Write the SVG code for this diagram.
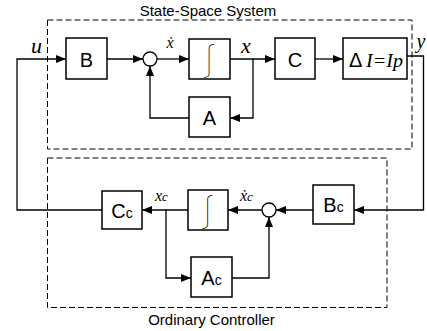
<svg xmlns="http://www.w3.org/2000/svg" width="427" height="331" viewBox="0 0 427 331">
<style>
.box{fill:#fff;stroke:#000;stroke-width:1.5}
.sum{fill:#fff;stroke:#000;stroke-width:1.3}
.dash{fill:none;stroke:#000;stroke-width:1;stroke-dasharray:6 3}
.arr{fill:none;stroke:#000;stroke-width:1.3;marker-end:url(#ah)}
.lbl{font-family:"Liberation Sans",Arial,sans-serif;font-size:20px;fill:#000}
.sub{font-size:14px}
.cap{font-family:"Liberation Sans",Arial,sans-serif;font-size:15px;fill:#000}
.math{font-family:"Liberation Serif","Times New Roman",serif;font-style:italic;fill:#000}
.int{font-family:Inter,sans-serif;font-weight:100;font-size:33px;fill:#000}
</style>
<defs>
<marker id="ah" markerUnits="userSpaceOnUse" markerWidth="11" markerHeight="9" refX="10" refY="4" orient="auto">
<path d="M0,0 L10,4 L0,8 z" fill="#000"/>
</marker>
</defs>
<rect width="427" height="331" fill="#fff"/>
<g id="ss-system">
<rect class="dash" x="47.5" y="20" width="364.5" height="129"/>
<text class="cap" x="208" y="16" text-anchor="middle">State-Space System</text>
</g>
<g id="controller">
<rect class="dash" x="47.5" y="158" width="339.5" height="149.5"/>
<text class="cap" x="211.5" y="324.5" text-anchor="middle">Ordinary Controller</text>
</g>
<g id="connectors">
<path class="arr" d="M102,210 H17 V59 H66"/>
<path class="arr" d="M107,59 H143"/>
<path class="arr" d="M157,59 H189"/>
<path class="arr" d="M230,59 H275"/>
<path class="arr" d="M253,59 V118 H230"/>
<path class="arr" d="M189,118 H150 V66"/>
<path class="arr" d="M315,59 H343"/>
<path class="arr" d="M407,56 H423.5 V210 H354"/>
<path class="arr" d="M313,210 H276"/>
<path class="arr" d="M262,210 H228"/>
<path class="arr" d="M188,210 H142"/>
<path class="arr" d="M166,210 V278 H191"/>
<path class="arr" d="M232,278 H269 V217"/>
</g>
<g id="B"><rect class="box" x="66" y="38" width="41" height="41"/><text class="lbl" x="86.5" y="66.5" text-anchor="middle">B</text></g>
<g id="sum1"><circle class="sum" cx="150" cy="59" r="7"/></g>
<g id="int1"><rect class="box" x="189" y="39" width="41" height="40"/><text class="int" x="209.5" y="70" text-anchor="middle">∫</text></g>
<g id="A"><rect class="box" x="189" y="97" width="41" height="40"/><text class="lbl" x="209.5" y="125" text-anchor="middle">A</text></g>
<g id="C"><rect class="box" x="275" y="38" width="40" height="41"/><text class="lbl" x="295" y="66.5" text-anchor="middle">C</text></g>
<g id="Delta"><rect class="box" x="343" y="38" width="64" height="41"/><text class="lbl" x="349" y="67" font-size="22">Δ</text><text class="math" x="366" y="66.5" font-size="18" textLength="37" lengthAdjust="spacingAndGlyphs">I=Ip</text></g>
<g id="Bc"><rect class="box" x="313" y="185" width="41" height="39"/><text class="lbl" x="333.5" y="212" text-anchor="middle">B<tspan class="sub">c</tspan></text></g>
<g id="sum2"><circle class="sum" cx="269" cy="210" r="7"/></g>
<g id="int2"><rect class="box" x="188" y="190" width="40" height="40"/><text class="int" x="208" y="221" text-anchor="middle">∫</text></g>
<g id="Ac"><rect class="box" x="191" y="257" width="41" height="40"/><text class="lbl" x="211.5" y="285" text-anchor="middle">A<tspan class="sub">c</tspan></text></g>
<g id="Cc"><rect class="box" x="102" y="191" width="40" height="38"/><text class="lbl" x="122" y="217.5" text-anchor="middle">C<tspan class="sub">c</tspan></text></g>
<g id="labels">
<text class="math" x="31" y="53" font-size="22">u</text>
<text class="math" x="166.5" y="48" font-size="16">ẋ</text>
<text class="math" x="241" y="53" font-size="22">x</text>
<text class="math" x="416.5" y="48" font-size="20">y</text>
<text class="math" x="155" y="201" font-size="16">x<tspan font-size="13">c</tspan></text>
<text class="math" x="240" y="201" font-size="16">ẋ<tspan font-size="13">c</tspan></text>
</g>
</svg>
